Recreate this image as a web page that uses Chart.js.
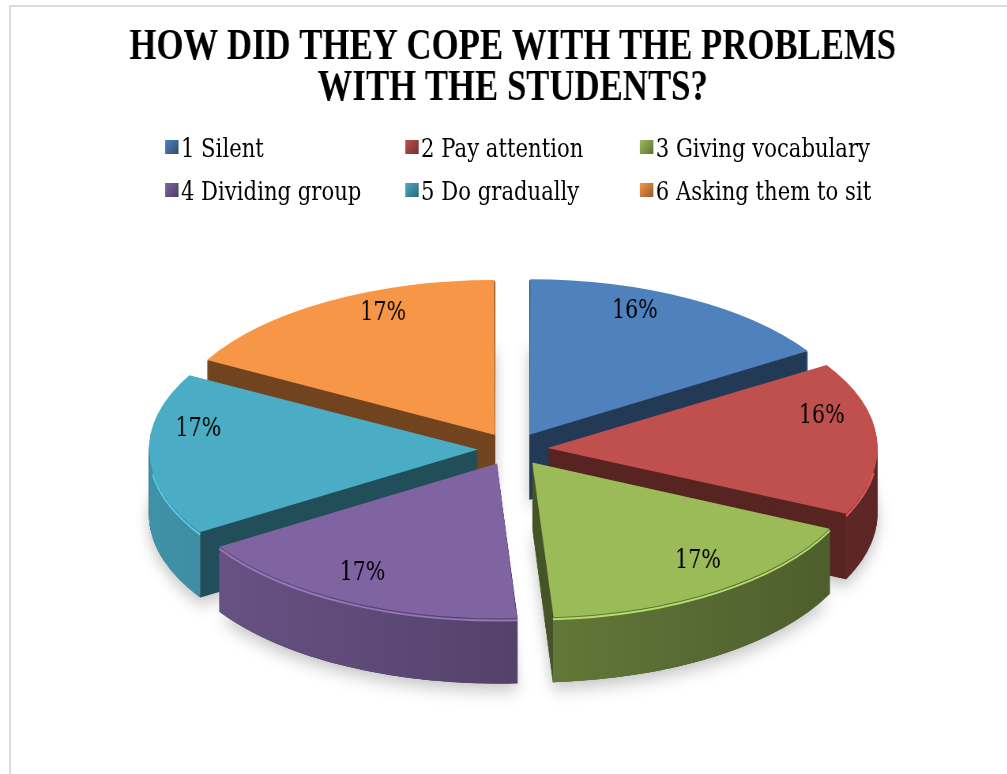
<!DOCTYPE html>
<html>
<head>
<meta charset="utf-8">
<script src="https://cdn.jsdelivr.net/npm/chart.js@4.4.0/dist/chart.umd.min.js"></script>
<style>
  html, body { margin: 0; padding: 0; background: #fff; }
  body { width: 1007px; height: 774px; overflow: hidden; position: relative; }
  #frame { position: absolute; left: 9px; top: 5px; width: 1010px; height: 790px; border: 2px solid #dcdcdc; box-sizing: border-box; }
  #wrap { position: absolute; left: 0; top: 0; width: 1275px; height: 774px; transform: scaleX(0.79); transform-origin: 0 0; }
  #legend { position: absolute; left: 0; top: 0; font-family: 'DejaVu Serif', serif; font-size: 26.8px; color: #000; }
  .item { position: absolute; display: flex; align-items: center; white-space: nowrap; height: 30px; }
  .box { width: 17px; height: 14px; margin-right: 3px; }
</style>
</head>
<body>
<div id="frame"></div>
<div id="wrap">
  <canvas id="chart" width="1275" height="774"></canvas>
  <div id="legend"></div>
</div>
<script>
// chart data
const categories = ['1 Silent', '2 Pay attention', '3 Giving vocabulary', '4 Dividing group', '5 Do gradually', '6 Asking them to sit'];
const shares = [16, 16, 17, 17, 17, 17];
const colors = ['#4F81BD', '#C0504D', '#9BBB59', '#8064A2', '#4BACC6', '#F79646'];
const titleLines = ['HOW DID THEY COPE WITH THE PROBLEMS', 'WITH THE STUDENTS?'];

// 3d look: vertical squash, centre and depth of the pie
const K = 0.372;
const CY = 449;
const DEPTH = 65;

function shade(hex, f) {
  const n = parseInt(hex.slice(1), 16);
  const r = Math.min(255, Math.round(((n >> 16) & 255) * f));
  const g = Math.min(255, Math.round(((n >> 8) & 255) * f));
  const b = Math.min(255, Math.round((n & 255) * f));
  return `rgb(${r},${g},${b})`;
}

// geometry of an arc element, moved out by its offset like chart.js does
function geom(el) {
  const p = el.getProps(['x', 'y', 'startAngle', 'endAngle', 'outerRadius', 'circumference']);
  const off = (el.options.offset || 0) / 4;
  const mid = (p.startAngle + p.endAngle) / 2;
  const fix = 1 - Math.sin(Math.min(Math.PI, p.circumference || 0));
  return {
    ox: p.x + Math.cos(mid) * off,
    oy: p.y + Math.sin(mid) * off,
    r: p.outerRadius + off * fix,
    a0: p.startAngle,
    a1: p.endAngle,
    y0: p.y
  };
}

function arcPath(ctx, el) {
  const g = geom(el);
  ctx.beginPath();
  ctx.moveTo(g.ox, g.oy);
  ctx.arc(g.ox, g.oy, g.r, g.a0, g.a1);
  ctx.closePath();
}

function squash(ctx, el, dy) {
  ctx.translate(0, CY + dy);
  ctx.scale(1, K);
  ctx.translate(0, -el.y);
}

// outer wall of the front half of a slice, in screen coords
function rimPath(ctx, el) {
  const g = geom(el);
  const a0 = Math.max(g.a0, 0);
  const a1 = Math.min(g.a1, Math.PI);
  if (a1 <= a0) return false;
  const pt = (t, d) => [g.ox + g.r * Math.cos(t), CY + (g.oy + g.r * Math.sin(t) - g.y0) * K + d];
  const n = 60;
  ctx.beginPath();
  for (let s = 0; s <= n; s++) {
    const [x, y] = pt(a0 + (a1 - a0) * s / n, 0);
    s ? ctx.lineTo(x, y) : ctx.moveTo(x, y);
  }
  for (let s = n; s >= 0; s--) {
    const [x, y] = pt(a0 + (a1 - a0) * s / n, DEPTH);
    ctx.lineTo(x, y);
  }
  ctx.closePath();
  return true;
}

const pie3d = {
  id: 'pie3d',
  beforeDatasetsDraw(chart) {
    const ctx = chart.ctx;
    const arcs = chart.getDatasetMeta(0).data;
    const cx = arcs[0].x;
    const R = arcs[0].outerRadius + 50;
    // soft shadow under the pie
    arcs.forEach((el) => {
      ctx.save();
      ctx.shadowColor = 'rgba(0,0,0,0.25)';
      ctx.shadowBlur = 18;
      ctx.shadowOffsetY = 6;
      squash(ctx, el, DEPTH);
      arcPath(ctx, el);
      ctx.fillStyle = '#888';
      ctx.fill();
      ctx.restore();
    });
    // cut faces, stacked from the bottom up
    for (let d = DEPTH; d >= 1; d--) {
      arcs.forEach((el, i) => {
        ctx.save();
        squash(ctx, el, d);
        ctx.fillStyle = shade(colors[i], 0.46);
        arcPath(ctx, el);
        ctx.fill();
        ctx.restore();
      });
    }
    // outer walls with a left-to-right shade
    arcs.forEach((el, i) => {
      if (!rimPath(ctx, el)) return;
      const g = ctx.createLinearGradient(cx - R, 0, cx + R, 0);
      g.addColorStop(0, shade(colors[i], 0.85));
      g.addColorStop(0.5, shade(colors[i], 0.66));
      g.addColorStop(1, shade(colors[i], 0.48));
      ctx.fillStyle = g;
      ctx.fill();
    });
    // top faces drawn by chart.js under the squash
    ctx.save();
    squash(ctx, arcs[0], 0);
  },
  afterDatasetsDraw(chart) {
    const ctx = chart.ctx;
    ctx.restore();
    const arcs = chart.getDatasetMeta(0).data;
    // light edge along the front rim
    arcs.forEach((el, i) => {
      const g = geom(el);
      const a0 = Math.max(g.a0, 0.15);
      const a1 = Math.min(g.a1, Math.PI - 0.15);
      if (a1 <= a0) return;
      ctx.save();
      squash(ctx, el, 2);
      ctx.beginPath();
      ctx.arc(g.ox, g.oy, g.r, a0, a1);
      ctx.restore();
      ctx.save();
      ctx.strokeStyle = shade(colors[i], 1.18);
      ctx.lineWidth = 2;
      ctx.stroke();
      ctx.restore();
    });
    const total = shares.reduce((a, b) => a + b, 0);
    ctx.save();
    ctx.font = '26px "DejaVu Serif"';
    ctx.fillStyle = '#000';
    ctx.textAlign = 'center';
    ctx.textBaseline = 'middle';
    arcs.forEach((el, i) => {
      const mid = (el.startAngle + el.endAngle) / 2;
      const off = el.options.offset / 4;
      const dist = el.outerRadius * 0.86 + off;
      const s = Math.sin(mid);
      // a bit of perspective: back labels pulled in, front ones pushed out
      const px = 1 + (s < 0 ? 0.22 : 0.06) * s;
      const x = el.x + Math.cos(mid) * dist * px;
      const y = CY - 24 + s * dist * K * (1 + 0.14 * s);
      ctx.fillText(Math.round(shares[i] / total * 100) + '%', x, y);
    });
    ctx.restore();
  }
};

new Chart(document.getElementById('chart'), {
  type: 'pie',
  data: {
    labels: categories,
    datasets: [{
      data: shares,
      backgroundColor: colors,
      borderWidth: 0,
      offset: 176,
      hoverOffset: 176,
      radius: 411,
      clip: false
    }]
  },
  options: {
    responsive: false,
    animation: false,
    layout: { padding: { left: 23 } },
    plugins: {
      legend: { display: false },
      tooltip: { enabled: false },
      title: {
        display: true,
        text: titleLines,
        color: '#000',
        font: { family: 'Liberation Serif', size: 44, weight: 'bold', lineHeight: 0.94 },
        padding: { top: 27, bottom: 10 }
      }
    }
  },
  plugins: [pie3d]
});

// legend, 3 columns x 2 rows
const colX = [209, 513, 810];
const rowY = [147, 190];
const legend = document.getElementById('legend');
categories.forEach((name, i) => {
  const item = document.createElement('div');
  item.className = 'item';
  item.style.left = colX[i % 3] + 'px';
  item.style.top = (rowY[Math.floor(i / 3)] - 15) + 'px';
  item.innerHTML = `<span class="box" style="background: linear-gradient(135deg, ${colors[i]} 0%, ${shade(colors[i], 0.6)} 100%)"></span>${name}`;
  legend.appendChild(item);
});
</script>
</body>
</html>
